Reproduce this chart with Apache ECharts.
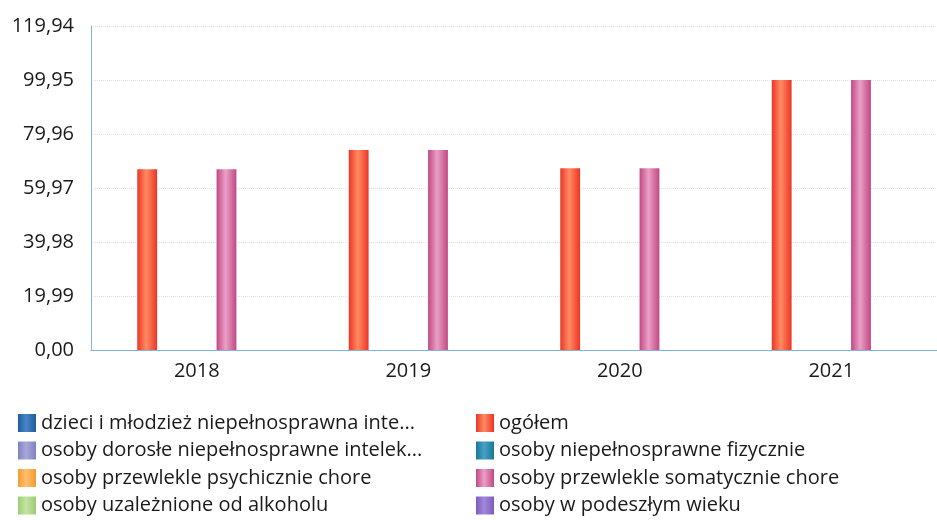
<!DOCTYPE html>
<html>
<head>
<meta charset="utf-8">
<script src="https://cdn.jsdelivr.net/npm/echarts@6/dist/echarts.min.js"></script>
<style>
    html, body {margin: 0; padding: 0; background: #fff;}
    #chart {width: 937px; height: 520px;}
</style>
</head>
<body>
<div id="chart"></div>
<script>
    // lata
    var years = ['2018', '2019', '2020', '2021'];
    // nazwy serii (kolejność jak w legendzie)
    var seriesNames = [
        'dzieci i młodzież niepełnosprawna intelektualnie',
        'ogółem',
        'osoby dorosłe niepełnosprawne intelektualnie',
        'osoby niepełnosprawne fizycznie',
        'osoby przewlekle psychicznie chore',
        'osoby przewlekle somatycznie chore',
        'osoby uzależnione od alkoholu',
        'osoby w podeszłym wieku'
    ];
    // wartości
    var dzieci = [0, 0, 0, 0];
    var ogolem = [66.9, 74.0, 67.3, 99.95];
    var dorosle = [0, 0, 0, 0];
    var fizycznie = [0, 0, 0, 0];
    var psychicznie = [0, 0, 0, 0];
    var somatycznie = [66.9, 74.0, 67.3, 99.95];
    var alkohol = [0, 0, 0, 0];
    var wiek = [0, 0, 0, 0];
    var values = [dzieci, ogolem, dorosle, fizycznie, psychicznie, somatycznie, alkohol, wiek];
    // kolory: [krawędź, środek]
    var colors = [
        ['#1d5c9e', '#4a86c4'],
        ['#ec3426', '#ff8c62'],
        ['#7f80c0', '#a8a8dc'],
        ['#17789c', '#4aa0c0'],
        ['#f59a30', '#ffc070'],
        ['#c24882', '#eaa0c6'],
        ['#9ccc70', '#c4e4a4'],
        ['#7a5cbc', '#a488dc']
    ];

    function grad(c){
        return new echarts.graphic.LinearGradient(0, 0, 1, 0, [
            {offset: 0, color: c[0]},
            {offset: 0.45, color: c[1]},
            {offset: 1, color: c[0]}
        ]);
    }

    var series = seriesNames.map(function(name, i){
        return {
            name: name,
            type: 'bar',
            barGap: '0%',
            barCategoryGap: '25%',
            itemStyle: {color: grad(colors[i])},
            data: values[i]
        };
    });

    var legendText = {fontFamily: 'Open Sans', fontSize: 20, lineHeight: 18, color: '#1a1a1a',
        width: 408, overflow: 'truncate', ellipsis: '...'};

    var option = {
        animation: false,
        textStyle: {fontFamily: 'Open Sans'},
        grid: {left: 91, top: 26, width: 855, bottom: 170, containLabel: false},
        legend: [
            {
                orient: 'vertical', left: 18, top: 413, height: 107, padding: 0,
                itemWidth: 18, itemHeight: 18, itemGap: 7.5, itemStyle: {borderWidth: 0},
                icon: 'rect', textStyle: legendText,
                data: [seriesNames[0], seriesNames[2], seriesNames[4], seriesNames[6]]
            },
            {
                orient: 'vertical', left: 476, top: 413, height: 107, padding: 0,
                itemWidth: 18, itemHeight: 18, itemGap: 7.5, itemStyle: {borderWidth: 0},
                icon: 'rect', textStyle: legendText,
                data: [seriesNames[1], seriesNames[3], seriesNames[5], seriesNames[7]]
            }
        ],
        xAxis: {
            type: 'category',
            data: years,
            axisLine: {lineStyle: {color: '#7fb2e0', width: 1}},
            axisTick: {show: false},
            axisLabel: {fontSize: 20, color: '#1a1a1a', margin: 11}
        },
        yAxis: {
            type: 'value',
            min: 0,
            max: 119.94,
            interval: 19.99,
            axisLine: {show: true, lineStyle: {color: '#7fb2e0', width: 1}},
            axisTick: {show: false},
            splitLine: {lineStyle: {color: '#e2e2e2', type: 'dotted'}},
            axisLabel: {
                fontSize: 20, color: '#1a1a1a', margin: 17,
                formatter: function(v){ return v.toFixed(2).replace('.', ','); }
            }
        },
        series: series
    };

    echarts.init(document.getElementById('chart')).setOption(option);
</script>
</body>
</html>
